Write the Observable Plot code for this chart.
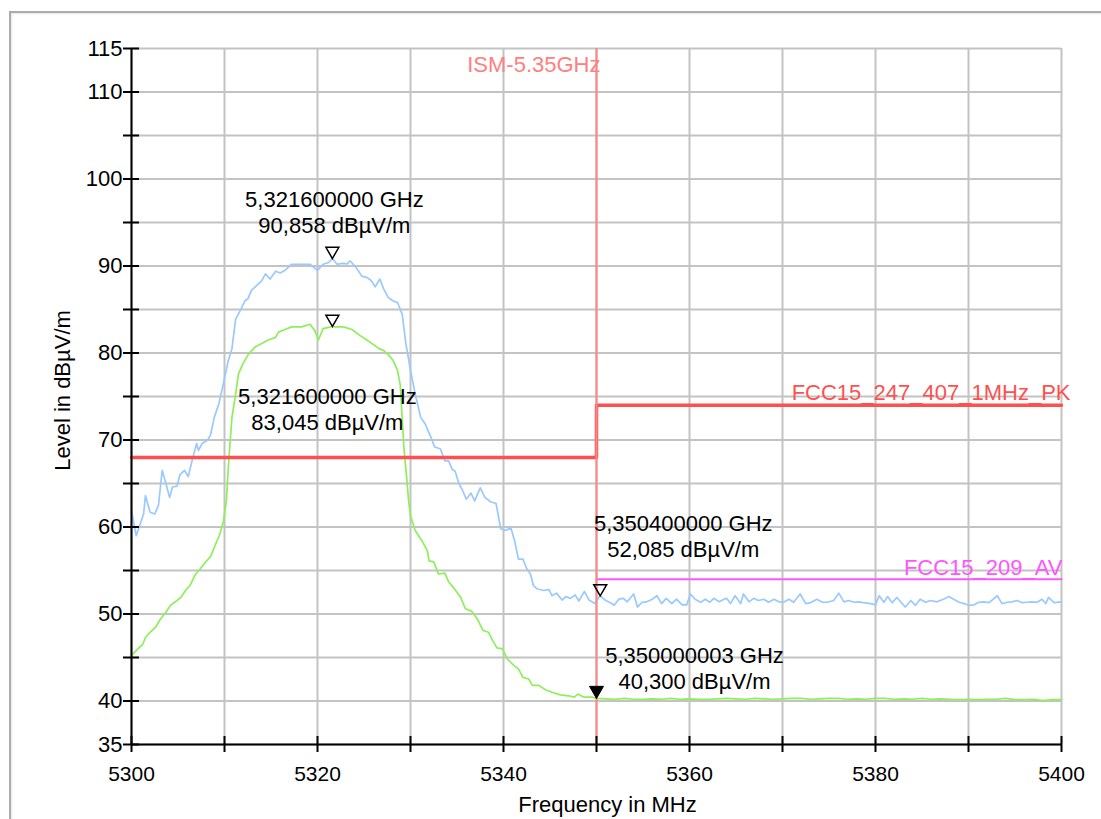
<!DOCTYPE html>
<html><head><meta charset="utf-8">
<script src="https://cdn.jsdelivr.net/npm/d3@7"></script>
<script src="https://cdn.jsdelivr.net/npm/@observablehq/plot@0.6"></script>
<style>
html,body{margin:0;padding:0;background:#fff;overflow:hidden}
#wrap{position:relative;width:1101px;height:819px;overflow:hidden;font-family:"Liberation Sans",Arial,sans-serif}
#frame{position:absolute;left:9px;top:11px;width:1110px;height:830px;border-left:2px solid #ababab;border-top:2px solid #ababab;box-shadow:inset 1px 1px 2px rgba(0,0,0,0.10)}
#chart{position:absolute;left:0;top:0}
</style></head>
<body><div id="wrap"><div id="frame"></div><div id="chart"></div></div>
<script>
// ---- data ----
const blueFreq = [
5300.0,5300.5,5301.3,5301.5,5302.0,5302.5,5302.9,5303.3,5303.7,5304.1,
5304.4,5304.9,5305.2,5305.7,5306.1,5306.6,5307.0,5307.2,5307.6,5308.2,
5308.5,5308.9,5309.4,5309.8,5310.1,5310.4,5310.8,5311.2,5311.7,5312.2,
5312.5,5312.9,5313.5,5314.0,5314.4,5314.9,5315.5,5316.0,5316.5,5317.2,
5318.3,5319.2,5320.0,5320.6,5321.2,5321.6,5322.1,5322.7,5323.2,5323.5,
5324.1,5324.8,5325.3,5325.8,5326.2,5326.7,5327.1,5327.6,5328.1,5328.6,
5329.1,5329.5,5330.0,5330.5,5331.1,5331.6,5332.2,5332.6,5333.2,5333.7,
5334.1,5334.5,5334.8,5335.2,5335.6,5336.0,5336.5,5336.9,5337.5,5338.0,
5338.6,5339.2,5339.7,5340.2,5340.8,5341.2,5341.6,5342.1,5342.5,5342.9,
5343.2,5343.6,5344.3,5344.9,5345.2,5345.7,5346.3,5346.7,5347.2,5347.7,
5348.1,5348.7,5349.2,5349.8,5350.4,5351.0,5351.5,5351.9,5352.4,5352.9,
5353.3,5354.0,5354.4,5354.9,5355.4,5356.0,5356.5,5357.0,5357.5,5358.1,
5358.6,5359.2,5359.7,5360.1,5360.6,5361.2,5361.7,5362.2,5362.6,5363.2,
5363.7,5364.0,5364.4,5364.9,5365.5,5365.8,5366.4,5366.9,5367.4,5368.0,
5368.5,5369.1,5369.6,5370.1,5370.7,5371.2,5371.9,5372.5,5373.0,5373.7,
5374.3,5374.8,5375.5,5376.05,5376.6,5377.1,5377.7,5378.2,5378.7,5379.5,
5380.0,5380.4,5380.9,5381.3,5381.8,5382.3,5382.7,5383.2,5383.8,5384.3,
5384.8,5385.4,5385.9,5386.6,5387.3,5387.9,5388.4,5389.0,5389.5,5390.0,
5390.6,5391.1,5391.6,5392.2,5393.1,5393.6,5394.2,5394.7,5395.2,5395.8,
5396.3,5396.8,5397.4,5397.9,5398.3,5398.6,5399.2,5400.0];
const blueLevel = [
61.9,59.0,61.5,63.6,61.7,61.5,62.5,66.5,65.0,63.4,
64.6,64.7,66.0,66.5,65.8,68.0,69.6,68.8,69.6,70.0,
70.6,72.6,74.2,76.1,77.6,79.1,80.5,83.9,84.9,86.0,
86.2,87.2,87.8,88.3,89.1,88.5,89.4,89.2,89.5,90.2,
90.2,90.2,89.5,90.2,90.4,90.858,90.2,90.3,90.25,90.6,
89.9,88.8,88.7,88.3,87.6,88.5,87.4,86.4,86.0,85.8,
84.5,81.1,78.0,75.3,72.6,71.8,70.3,69.2,69.0,67.6,
67.6,66.6,66.4,65.0,64.2,63.2,63.9,63.0,64.5,63.4,
62.9,62.7,59.8,59.6,59.9,58.4,56.3,56.3,55.2,54.6,
53.3,52.9,52.7,52.8,52.1,52.4,51.6,52.0,51.8,52.2,
51.5,52.6,51.6,51.2,52.085,51.55,51.3,51.0,51.7,51.8,
51.4,52.3,50.8,51.35,51.4,51.7,52.1,51.2,51.8,51.2,
51.7,51.05,51.05,52.3,51.7,51.35,51.7,51.35,51.8,51.4,
51.7,51.8,51.2,52.1,51.2,52.3,51.4,51.8,51.55,51.7,
51.35,51.7,51.4,51.35,51.7,51.35,52.3,51.2,51.3,51.7,
51.35,51.35,51.55,52.4,51.4,51.55,51.35,51.4,51.3,51.2,
51.05,52.1,51.35,52.0,51.3,51.9,51.4,50.8,51.55,51.0,
51.7,51.35,51.55,51.4,51.7,52.0,51.7,51.35,51.2,51.0,
51.05,51.35,51.4,51.3,52.1,51.2,51.35,51.4,51.55,51.3,
51.35,51.4,51.35,51.7,51.2,51.9,51.3,51.4];

const greenFreq = [
5300.0,5300.6,5301.2,5301.5,5302.0,5302.6,5303.1,5303.7,5304.2,5304.7,
5305.3,5305.8,5306.3,5306.9,5307.4,5308.0,5308.5,5309.0,5309.5,5309.9,
5310.2,5310.45,5310.8,5311.2,5311.5,5312.0,5312.6,5313.3,5314.0,5314.7,
5315.5,5315.8,5316.5,5317.2,5318.3,5319.2,5319.7,5320.1,5320.6,5321.2,
5321.6,5321.9,5322.8,5323.7,5324.6,5325.3,5326.1,5326.6,5327.1,5327.7,
5328.1,5328.6,5328.9,5329.1,5329.3,5329.6,5329.8,5330.0,5330.5,5331.3,
5331.8,5332.0,5332.5,5333.0,5333.7,5334.1,5334.8,5335.4,5335.9,5336.6,
5337.2,5337.8,5338.4,5338.8,5339.3,5339.9,5340.4,5341.1,5341.6,5342.1,
5342.7,5343.1,5343.8,5344.5,5345.2,5346.1,5347.0,5347.6,5348.0,5348.6,
5349.5,5350.0,5351,5352,5353,5354,5355,5356,5357,5358,
5359,5360,5361,5362,5363,5364,5365,5366,5367,5368,
5369,5370,5371,5372,5373,5374,5375,5376,5377,5378,
5379,5380,5381,5382,5383,5384,5385,5386,5387,5388,
5389,5390,5391,5392,5393,5394,5395,5396,5397,5398,
5399,5400];
const greenLevel = [
45.2,45.9,46.5,47.3,47.9,48.5,49.4,50.2,51.0,51.4,
51.9,52.7,53.3,54.6,55.2,56.0,56.6,57.9,59.2,60.7,
63.0,67.5,72.6,75.3,77.6,78.8,79.9,80.7,81.1,81.5,
81.8,82.4,82.7,83.0,83.0,83.3,82.6,81.5,82.8,82.95,
83.045,83.0,83.0,82.7,82.0,81.5,80.9,80.5,80.3,79.7,
79.2,78.0,76.3,72.6,69.0,65.5,63.0,61.3,59.6,58.3,
57.3,56.1,56.0,54.6,54.7,53.7,52.8,51.9,50.6,50.3,
49.4,48.1,47.9,47.0,46.1,46.0,44.85,44.1,43.7,42.7,
42.55,41.8,41.8,41.3,41.0,40.7,40.6,40.45,40.8,40.45,
40.45,40.3,40.25,40.2,40.3,40.2,40.2,40.25,40.2,40.3,
40.2,40.25,40.2,40.2,40.25,40.3,40.25,40.2,40.3,40.25,
40.2,40.25,40.3,40.3,40.2,40.25,40.3,40.3,40.2,40.25,
40.2,40.3,40.3,40.2,40.25,40.2,40.3,40.2,40.25,40.2,
40.15,40.2,40.15,40.2,40.2,40.3,40.15,40.15,40.2,40.05,
40.15,40.15];

const limitPkFreq = [5300, 5350, 5350, 5400];
const limitPkLevel = [68, 68, 74, 74];
const limitAvFreq = [5350, 5400];
const limitAvLevel = [54, 54];
const ismFreq = [5350];

const markerFreq = [5321.6, 5321.6, 5350.4, 5350.000003];
const markerLevel = [90.858, 83.045, 52.085, 40.300];
const markerFilled = [false, false, false, true];

const xTicks = [5300,5310,5320,5330,5340,5350,5360,5370,5380,5390,5400];
const xLabels = [5300,5320,5340,5360,5380,5400];
const yTicks = [35,40,45,50,55,60,65,70,75,80,85,90,95,100,105,110,115];
const yLabels = [35,40,50,60,70,80,90,100,110,115];

// ---- build ----
const blue = blueFreq.map((f, i) => ({f, v: blueLevel[i]}));
const green = greenFreq.map((f, i) => ({f, v: greenLevel[i]}));
const limPk = limitPkFreq.map((f, i) => ({f, v: limitPkLevel[i]}));
const limAv = limitAvFreq.map((f, i) => ({f, v: limitAvLevel[i]}));
const markers = markerFreq.map((f, i) => ({
  f, v: markerLevel[i], filled: markerFilled[i],
  label: (f / 1000).toFixed(9).replace(".", ",") + " GHz\n" + markerLevel[i].toFixed(3).replace(".", ",") + " dBµV/m"
}));
const labelOffsets = [[2, -47], [-5, 82], [83, -60], [98, -31]];
const font = "Liberation Sans, Arial, sans-serif";
const fmt = d => String(d);

const labelMarks = markers.map((m, i) => Plot.text([m], {
  x: "f", y: "v", text: "label", dx: labelOffsets[i][0], dy: labelOffsets[i][1],
  lineAnchor: "middle", lineHeight: 1.18, fontSize: 22, fill: "#000"
}));

const chart = Plot.plot({
  width: 1101, height: 819,
  marginLeft: 131, marginRight: 40, marginTop: 48, marginBottom: 75,
  style: {fontFamily: font, fontSize: "21px", color: "#000", background: "transparent"},
  x: {type: "linear", domain: [5300, 5400]},
  y: {type: "linear", domain: [35, 115]},
  marks: [
    Plot.ruleX(xTicks, {stroke: "#c3c3c3", strokeWidth: 2}),
    Plot.ruleY(yTicks, {stroke: "#c3c3c3", strokeWidth: 2}),
    Plot.line(blue, {x: "f", y: "v", stroke: "#99c9ff", strokeWidth: 1.7}),
    Plot.line(green, {x: "f", y: "v", stroke: "#8eef5a", strokeWidth: 1.7}),
    Plot.line(limPk, {x: "f", y: "v", stroke: "#ff5050", strokeWidth: 3.5}),
    Plot.line(limAv, {x: "f", y: "v", stroke: "#ff55ff", strokeWidth: 2}),
    Plot.ruleX(ismFreq, {stroke: "#ff8585", strokeWidth: 2}),
    Plot.ruleX([5300], {stroke: "#000", strokeWidth: 2}),
    Plot.ruleY([35], {stroke: "#000", strokeWidth: 2}),
    Plot.axisY(yTicks, {tickSize: 16, dx: 8, tickFormat: () => "", label: null, strokeWidth: 2}),
    Plot.axisY(yLabels, {tickSize: 0, tickPadding: 9, label: null, fontSize: 22, tickFormat: fmt}),
    Plot.axisX(xTicks, {tickSize: 16, dy: -8, tickFormat: () => "", label: null, strokeWidth: 2}),
    Plot.axisX(xLabels, {tickSize: 0, tickPadding: 22, label: null, fontSize: 21, tickFormat: fmt}),
    Plot.text(["Level in dBµV/m"], {frameAnchor: "left", textAnchor: "middle", lineAnchor: "middle", rotate: -90, dx: -69, dy: -6, fontSize: 22}),
    Plot.text(["Frequency in MHz"], {frameAnchor: "bottom", textAnchor: "middle", lineAnchor: "middle", dy: 60, dx: 11, fontSize: 22}),
    Plot.text([{f: ismFreq[0], v: 115}], {x: "f", y: "v", text: () => "ISM-5.35GHz", textAnchor: "end", lineAnchor: "middle", dx: 4, dy: 16, fill: "#ff8080", fontSize: 22}),
    Plot.text([limPk[3]], {x: "f", y: "v", text: () => "FCC15_247_407_1MHz_PK", textAnchor: "end", lineAnchor: "middle", dx: 9, dy: -12, fill: "#ff5050", fontSize: 22}),
    Plot.text([limAv[1]], {x: "f", y: "v", text: () => "FCC15_209_AV", textAnchor: "end", lineAnchor: "middle", dx: 1, dy: -11, fill: "#ff55ff", fontSize: 22}),
    Plot.dot(markers.filter(d => !d.filled), {x: "f", y: "v", symbol: "triangle", rotate: 180, r: 4.8, dy: -7.5, stroke: "#000", fill: "none", strokeWidth: 1.5}),
    Plot.dot(markers.filter(d => d.filled), {x: "f", y: "v", symbol: "triangle", rotate: 180, r: 5.2, dy: -8, stroke: "#000", fill: "#000", strokeWidth: 1}),
    ...labelMarks
  ]
});
document.getElementById("chart").append(chart);
</script>
</body></html>
